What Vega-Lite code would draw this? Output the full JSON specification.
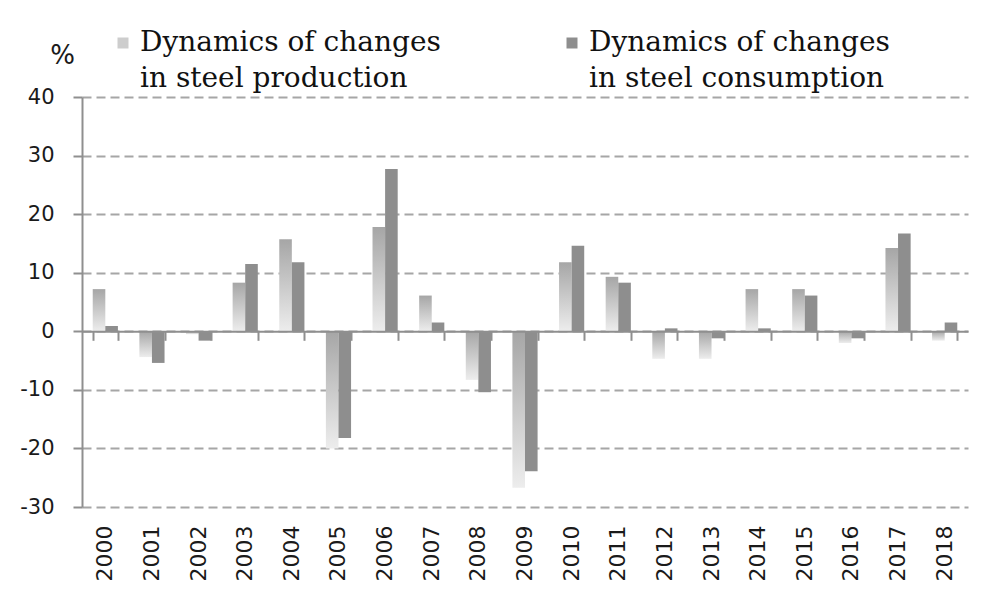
{
  "$schema": "https://vega.github.io/schema/vega-lite/v6.json",
  "width": 886,
  "height": 410,
  "autosize": {"type": "none"},
  "padding": {"left": 82, "top": 97, "right": 32, "bottom": 93},
  "background": "white",
  "config": {"view": {"stroke": null}, "style": {"guide-label": {"lineHeight": 36}}},
  "data": {
    "values": [
      {"year": "2000", "series": "Production", "value": 7.2},
      {"year": "2000", "series": "Consumption", "value": 0.9},
      {"year": "2001", "series": "Production", "value": -4.4},
      {"year": "2001", "series": "Consumption", "value": -5.4},
      {"year": "2002", "series": "Production", "value": -0.5},
      {"year": "2002", "series": "Consumption", "value": -1.6},
      {"year": "2003", "series": "Production", "value": 8.3},
      {"year": "2003", "series": "Consumption", "value": 11.5},
      {"year": "2004", "series": "Production", "value": 15.7},
      {"year": "2004", "series": "Consumption", "value": 11.8},
      {"year": "2005", "series": "Production", "value": -20.0},
      {"year": "2005", "series": "Consumption", "value": -18.2},
      {"year": "2006", "series": "Production", "value": 17.8},
      {"year": "2006", "series": "Consumption", "value": 27.7},
      {"year": "2007", "series": "Production", "value": 6.1},
      {"year": "2007", "series": "Consumption", "value": 1.5},
      {"year": "2008", "series": "Production", "value": -8.3},
      {"year": "2008", "series": "Consumption", "value": -10.4},
      {"year": "2009", "series": "Production", "value": -26.7},
      {"year": "2009", "series": "Consumption", "value": -23.9},
      {"year": "2010", "series": "Production", "value": 11.8},
      {"year": "2010", "series": "Consumption", "value": 14.6},
      {"year": "2011", "series": "Production", "value": 9.3},
      {"year": "2011", "series": "Consumption", "value": 8.3},
      {"year": "2012", "series": "Production", "value": -4.7},
      {"year": "2012", "series": "Consumption", "value": 0.5},
      {"year": "2013", "series": "Production", "value": -4.7},
      {"year": "2013", "series": "Consumption", "value": -1.2},
      {"year": "2014", "series": "Production", "value": 7.2},
      {"year": "2014", "series": "Consumption", "value": 0.5},
      {"year": "2015", "series": "Production", "value": 7.2},
      {"year": "2015", "series": "Consumption", "value": 6.1},
      {"year": "2016", "series": "Production", "value": -2.0},
      {"year": "2016", "series": "Consumption", "value": -1.2},
      {"year": "2017", "series": "Production", "value": 14.2},
      {"year": "2017", "series": "Consumption", "value": 16.7},
      {"year": "2018", "series": "Production", "value": -1.6},
      {"year": "2018", "series": "Consumption", "value": 1.5}
    ]
  },
  "layer": [
    {
      "transform": [{"filter": "datum.series === 'Production'"}],
      "mark": {
        "type": "bar",
        "color": {"gradient": "linear", "x1": 0, "y1": 0, "x2": 0, "y2": 1,
                  "stops": [{"offset": 0, "color": "#a6a6a6"}, {"offset": 1, "color": "#ededed"}]}
      },
      "encoding": {
        "x": {
          "field": "year", "type": "ordinal",
          "scale": {"paddingInner": 0.46, "paddingOuter": 0.23},
          "axis": {
            "orient": "bottom", "title": null, "domain": false, "ticks": false, "tickSize": 0,
            "labelAngle": -90, "labelPadding": 18, "labelFont": "DejaVu Sans", "labelFontSize": 22,
            "labelColor": "#1a1a1a", "grid": false
          }
        },
        "xOffset": {
          "field": "series", "type": "nominal",
          "scale": {"domain": ["Production", "Consumption"], "paddingInner": 0, "paddingOuter": 0}
        },
        "y": {
          "field": "value", "type": "quantitative",
          "scale": {"domain": [-30, 40], "nice": false, "zero": false},
          "axis": {
            "values": [-30, -20, -10, 0, 10, 20, 30, 40],
            "labelExpr": "'' + datum.value",
            "title": "%", "titleAngle": 0, "titleX": -20, "titleY": -42,
            "titleFont": "DejaVu Sans", "titleFontSize": 26, "titleFontWeight": "normal",
            "titleColor": "#1a1a1a", "titleAlign": "center", "titleBaseline": "middle",
            "labelFont": "DejaVu Sans", "labelFontSize": 21, "labelColor": "#1a1a1a", "labelPadding": 19,
            "tickSize": 9, "tickColor": "#8f8f8f", "tickWidth": 2,
            "domainColor": "#8f8f8f", "domainWidth": 2,
            "grid": true, "gridColor": "#a6a6a6", "gridWidth": 2, "gridDash": [9, 5]
          }
        }
      }
    },
    {
      "transform": [{"filter": "datum.series === 'Consumption'"}],
      "mark": {"type": "bar"},
      "encoding": {
        "x": {"field": "year", "type": "ordinal", "axis": null},
        "xOffset": {"field": "series", "type": "nominal"},
        "y": {"field": "value", "type": "quantitative"},
        "color": {
          "field": "series", "type": "nominal",
          "scale": {"domain": ["Production", "Consumption"], "range": ["#cdcdcd", "#8e8e8e"]},
          "legend": {
            "orient": "none", "legendX": 27, "legendY": -68, "direction": "horizontal", "columns": 2,
            "title": null, "symbolType": "square", "symbolSize": 121, "symbolStrokeWidth": 0,
            "labelFont": "DejaVu Serif", "labelFontSize": 28, "labelColor": "#111111",
            "labelOffset": 3, "columnPadding": 117, "padding": 0, "labelLimit": 600,
            "labelBaseline": "middle",
            "labelExpr": "datum.label === 'Production' ? ['Dynamics of changes', '\u00a0in steel production'] : ['\u00a0\u00a0Dynamics of changes', '\u00a0\u00a0in steel consumption']"
          }
        }
      }
    },
    {
      "mark": {"type": "bar", "opacity": 0},
      "encoding": {
        "x": {
          "field": "year", "type": "ordinal",
          "axis": {
            "orient": "bottom", "offset": -175.7, "labels": false, "title": null,
            "ticks": true, "tickBand": "extent", "tickSize": 9, "tickWidth": 2, "tickColor": "#8f8f8f",
            "domain": true, "domainColor": "#8f8f8f", "domainWidth": 2, "grid": false, "zindex": 1
          }
        }
      }
    }
  ],
  "resolve": {"axis": {"x": "independent"}}
}
